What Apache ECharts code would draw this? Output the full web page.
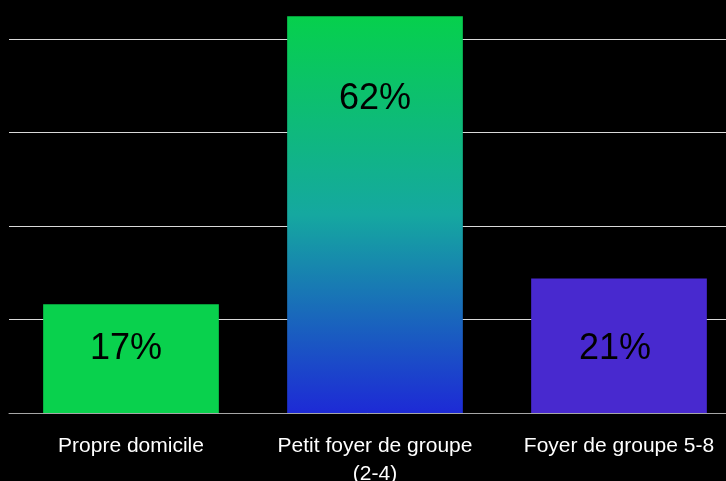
<!DOCTYPE html>
<html>
<head>
<meta charset="utf-8">
<script src="https://cdn.jsdelivr.net/npm/echarts@6/dist/echarts.min.js"></script>
<style>
html,body{margin:0;padding:0;background:#000;}
#chart{width:726px;height:481px;}
</style>
</head>
<body>
<div id="chart"></div>
<script>
var categories = ["Propre domicile", "Petit foyer de groupe\n(2-4)", "Foyer de groupe 5-8"];
var values = [17, 62, 21];

var barColors = [
  '#09d14d',
  new echarts.graphic.LinearGradient(0, 0, 0, 1, [
    {offset: 0, color: '#06d04c'},
    {offset: 0.5, color: '#15a8a0'},
    {offset: 1, color: '#1d2ad6'}
  ]),
  '#4829cf'
];
var labelOffsets = [[-5, -10], [0, -116], [-4, 3]];

var chart = echarts.init(document.getElementById('chart'));
chart.setOption({
  backgroundColor: '#000000',
  animation: false,
  grid: {left: 9, width: 732, top: 39.3, height: 373.7, containLabel: false, outerBoundsMode: 'none'},
  xAxis: {
    type: 'category',
    data: categories,
    axisLine: {show: true, lineStyle: {color: '#a6a6a6', width: 1}},
    axisTick: {show: false},
    axisLabel: {
      color: '#ffffff',
      fontFamily: 'Liberation Sans, Arial, sans-serif',
      fontSize: 21,
      lineHeight: 28,
      margin: 19,
      interval: 0
    }
  },
  yAxis: {
    type: 'value',
    min: 0,
    max: 58.4,
    interval: 14.6,
    axisLine: {show: false},
    axisTick: {show: false},
    axisLabel: {show: false},
    splitLine: {show: true, lineStyle: {color: '#d9d9d9', width: 1}}
  },
  series: [{
    type: 'bar',
    clip: false,
    barCategoryGap: '28%',
    data: values.map(function (v, i) {
      return {
        value: v,
        itemStyle: {color: barColors[i]},
        label: {offset: labelOffsets[i]}
      };
    }),
    label: {
      show: true,
      position: 'inside',
      formatter: '{c}%',
      color: '#000000',
      fontFamily: 'Liberation Sans, Arial, sans-serif',
      fontSize: 36
    }
  }]
});
</script>
</body>
</html>
